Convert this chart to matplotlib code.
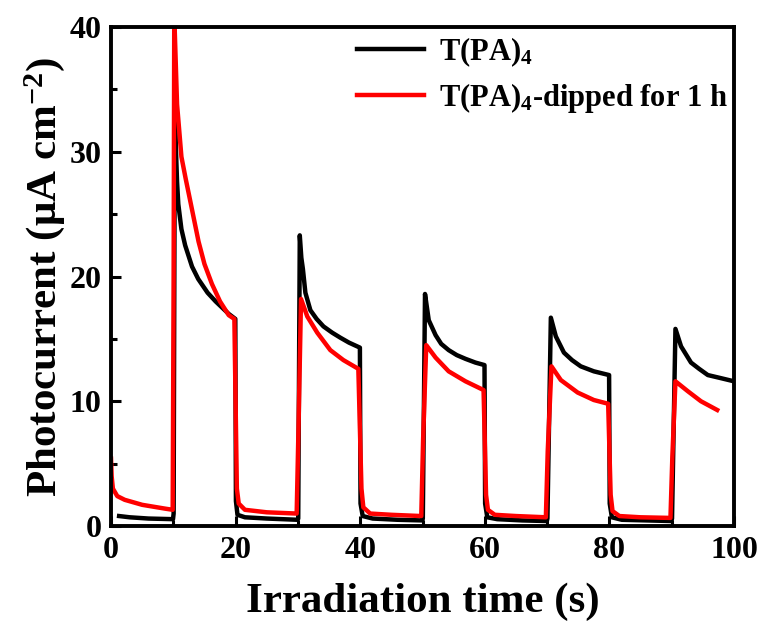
import matplotlib

matplotlib.use("Agg")
import matplotlib.pyplot as plt
from matplotlib.ticker import MultipleLocator

# Values (time in s, current in uA cm^-2)
black_t = [
    1.3, 3.0, 6.0, 9.95,
    10.05, 10.25, 10.4, 10.6, 10.8, 11.3, 11.9, 13.0, 14.0, 15.5, 16.8, 18.9, 19.95,
    20.05, 20.3, 21.5, 25.0, 29.95,
    30.05, 30.3, 30.55, 30.8, 31.2, 32.0, 33.0, 34.1, 35.5, 36.8, 38.2, 39.95,
    40.05, 40.4, 42.0, 46.0, 49.95,
    50.05, 50.4, 51.0, 52.1, 53.0, 54.2, 55.5, 56.9, 58.5, 59.95,
    60.05, 60.4, 62.0, 66.0, 69.95,
    70.05, 70.6, 71.4, 72.7, 74.0, 75.4, 77.5, 79.95,
    80.05, 80.4, 82.0, 86.0, 89.95,
    90.05, 90.6, 91.5, 93.1, 94.4, 95.8, 97.5, 100.0,
]
black_i = [
    0.8, 0.7, 0.6, 0.55,
    1.0, 34.6, 30.5, 27.6, 25.8, 23.8, 22.5, 20.8, 19.8, 18.7, 18.0, 17.0, 16.6,
    2.0, 0.9, 0.7, 0.6, 0.5,
    0.6, 23.3, 21.5, 20.6, 18.7, 17.3, 16.6, 16.0, 15.5, 15.1, 14.7, 14.3,
    1.8, 0.8, 0.6, 0.5, 0.45,
    0.6, 18.6, 16.5, 15.3, 14.6, 14.1, 13.7, 13.4, 13.1, 12.9,
    1.8, 0.7, 0.55, 0.45, 0.4,
    0.6, 16.7, 15.2, 13.9, 13.3, 12.8, 12.4, 12.1,
    1.8, 0.7, 0.5, 0.45, 0.4,
    0.6, 15.8, 14.4, 13.1, 12.6, 12.1, 11.9, 11.6,
]

red_t = [
    0.0, 0.1, 0.3, 1.0, 2.2, 5.0, 8.6, 9.9,
    10.05, 10.15, 10.6, 11.3, 12.0, 12.7, 14.05, 15.0, 16.2, 17.5, 18.9, 19.8,
    20.2, 20.5, 21.5, 25.0, 29.8,
    30.1, 30.5, 31.5, 33.1, 35.2, 37.3, 39.7,
    40.2, 40.5, 41.6, 45.0, 49.8,
    50.1, 50.6, 52.1, 54.2, 56.9, 59.8,
    60.2, 60.5, 61.6, 65.0, 69.8,
    70.1, 70.7, 72.2, 74.9, 77.5, 79.8,
    80.2, 80.5, 81.6, 85.0, 89.8,
    90.1, 90.6, 92.6, 94.7, 97.3,
]
red_i = [
    5.4, 4.0, 3.0, 2.4, 2.1, 1.7, 1.4, 1.3,
    20.0, 41.0, 33.8, 29.6, 27.8, 26.1, 22.8, 21.0, 19.4, 18.0, 16.9, 16.6,
    3.0, 1.8, 1.3, 1.1, 1.0,
    8.0, 18.2, 16.8, 15.5, 14.1, 13.3, 12.6,
    3.0, 1.5, 1.0, 0.9, 0.8,
    7.0, 14.5, 13.5, 12.4, 11.6, 10.9,
    2.5, 1.3, 0.9, 0.8, 0.7,
    6.0, 12.8, 11.7, 10.7, 10.1, 9.8,
    2.5, 1.2, 0.8, 0.7, 0.65,
    5.5, 11.6, 10.8, 10.0, 9.3,
]

plt.rcParams["font.family"] = ["Liberation Serif", "DejaVu Serif"]
plt.rcParams["font.weight"] = "bold"
plt.rcParams["mathtext.fontset"] = "custom"
plt.rcParams["mathtext.rm"] = "Liberation Serif:bold"
plt.rcParams["mathtext.it"] = "Liberation Serif:bold"
plt.rcParams["mathtext.bf"] = "Liberation Serif:bold"
plt.rcParams["mathtext.default"] = "rm"

fig = plt.figure(figsize=(7.63, 6.22), dpi=100)
ax = fig.add_axes([0.1455, 0.1543, 0.8165, 0.8023])

ax.plot(black_t, black_i, color="black", linewidth=3.2, label="T(PA)$_4$")
ax.plot(red_t, red_i, color="#ff0000", linewidth=3.2, label="T(PA)$_4$-dipped for 1 h")

ax.set_xlim(0, 100)
ax.set_ylim(0, 40)
ax.xaxis.set_major_locator(MultipleLocator(20))
ax.xaxis.set_minor_locator(MultipleLocator(10))
ax.yaxis.set_major_locator(MultipleLocator(10))
ax.yaxis.set_minor_locator(MultipleLocator(5))
ax.tick_params(which="major", direction="in", length=7, width=2.2, labelsize=23, pad=7)
ax.tick_params(which="minor", direction="in", length=4, width=2.2)
for spine in ax.spines.values():
    spine.set_linewidth(2.8)

ax.set_xlabel("Irradiation time (s)", fontsize=31, fontweight="bold", labelpad=13)
ax.set_ylabel("Photocurrent (μA cm$^{-2}$)", fontsize=31, fontweight="bold", labelpad=2)

ax.legend(loc="upper right", bbox_to_anchor=(1.02, 1.02), frameon=False, fontsize=22,
          handlelength=2.2, handletextpad=0.5, labelspacing=0.4, borderaxespad=0.2)

fig.savefig("out.png", dpi=100)
